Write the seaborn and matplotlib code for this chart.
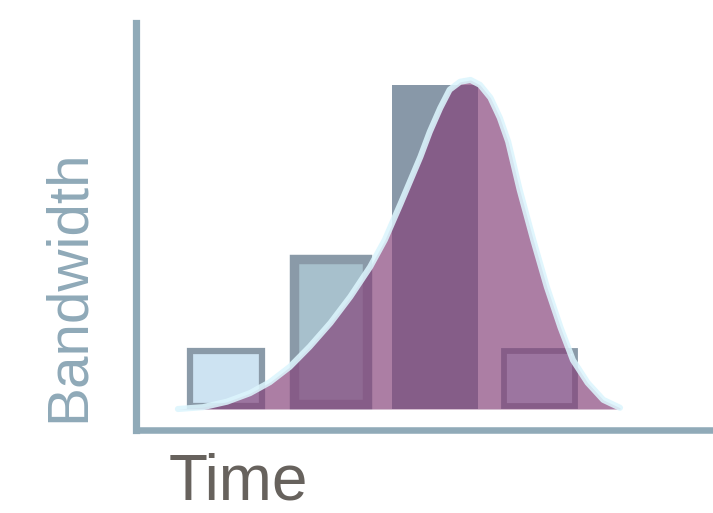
import matplotlib
matplotlib.use("Agg")
import matplotlib.pyplot as plt
import numpy as np
import pandas as pd
import seaborn as sns

# bar heights (time buckets 1..4)
bar_time = [1, 2, 3, 4]
bar_height = [1.0, 2.54, 5.31, 1.0]

# bell-like curve
curve_time = [0.54, 0.78, 1.01, 1.23, 1.42, 1.61, 1.80, 2.00, 2.19, 2.38,
              2.52, 2.67, 2.86, 2.95, 3.05, 3.14, 3.24, 3.34, 3.43, 3.53,
              3.62, 3.70, 3.81, 3.94, 4.07, 4.20, 4.32, 4.46, 4.61, 4.77]
curve_value = [0.0, 0.03, 0.12, 0.26, 0.44, 0.69, 1.02, 1.41, 1.84, 2.33,
               2.77, 3.36, 4.13, 4.54, 4.93, 5.23, 5.36, 5.39, 5.31, 5.10,
               4.77, 4.38, 3.59, 2.77, 2.00, 1.34, 0.80, 0.43, 0.15, 0.02]

bar_widths = [0.744, 0.791, 0.819, 0.737]
bar_faces = ["#cde3f2", "#a7c0cc", "#8898a8", "#cde3f2"]
bar_edge = "#8a9aa8"
bar_lw = [4.5, 6.8, 0.0, 4.2]

axis_color = "#90aab8"
purple = "#854179"

sns.set_style("white")

fig = plt.figure(figsize=(7.13, 5.13), dpi=100)
ax = fig.add_axes([136 / 713, 83 / 513, 1 - 136 / 713, 407 / 513])

df = pd.DataFrame({"time": bar_time, "bandwidth": bar_height})
sns.barplot(data=df, x="time", y="bandwidth", native_scale=True,
            width=0.7, errorbar=None, ax=ax, zorder=1)

ax.set_xlim(0.139, 5.66)
ax.set_ylim(-0.344, 6.323)

# pixel size of one data unit, used to draw the edges inside the bars
p0 = ax.transData.transform((0, 0))
p1 = ax.transData.transform((1, 1))
px_x, px_y = p1[0] - p0[0], p1[1] - p0[1]

for patch, t, h, w, fc, lw in zip(ax.patches, bar_time, bar_height,
                                  bar_widths, bar_faces, bar_lw):
    half = lw * 100 / 72 / 2
    dx, dy = half / px_x, half / px_y
    patch.set_x(t - w / 2 + dx)
    patch.set_width(w - 2 * dx)
    patch.set_y(dy)
    patch.set_height(h - 2 * dy)
    patch.set_facecolor(fc)
    patch.set_edgecolor(bar_edge if lw > 0 else "none")
    patch.set_linewidth(lw)
    patch.set_alpha(1)

ax.fill_between(curve_time, curve_value, 0, color=purple, alpha=0.68,
                lw=0, zorder=2)
sns.lineplot(x=curve_time, y=curve_value, color="#dcf5fd", alpha=0.88,
             lw=4.4, ax=ax, zorder=3, solid_joinstyle="round",
             solid_capstyle="round")

sns.despine(ax=ax)
for side, lw in (("left", 5.2), ("bottom", 4.7)):
    ax.spines[side].set_color(axis_color)
    ax.spines[side].set_linewidth(lw)
ax.set_xticks([])
ax.set_yticks([])
ax.set_xlabel("")
ax.set_ylabel("")
ax.patch.set_alpha(0)

fig.text(84 / 713, 1 - 285.5 / 513, "Bandwidth", rotation=90,
         rotation_mode="anchor", ha="center", va="baseline",
         color="#8fa9b8", fontsize=42, family=["Liberation Sans"])
fig.text(169 / 713, 1 - 500 / 513, "Time", ha="left", va="baseline",
         color="#67625d", fontsize=46, family=["Liberation Sans"])

fig.savefig("out.png", dpi=100, facecolor="white")
